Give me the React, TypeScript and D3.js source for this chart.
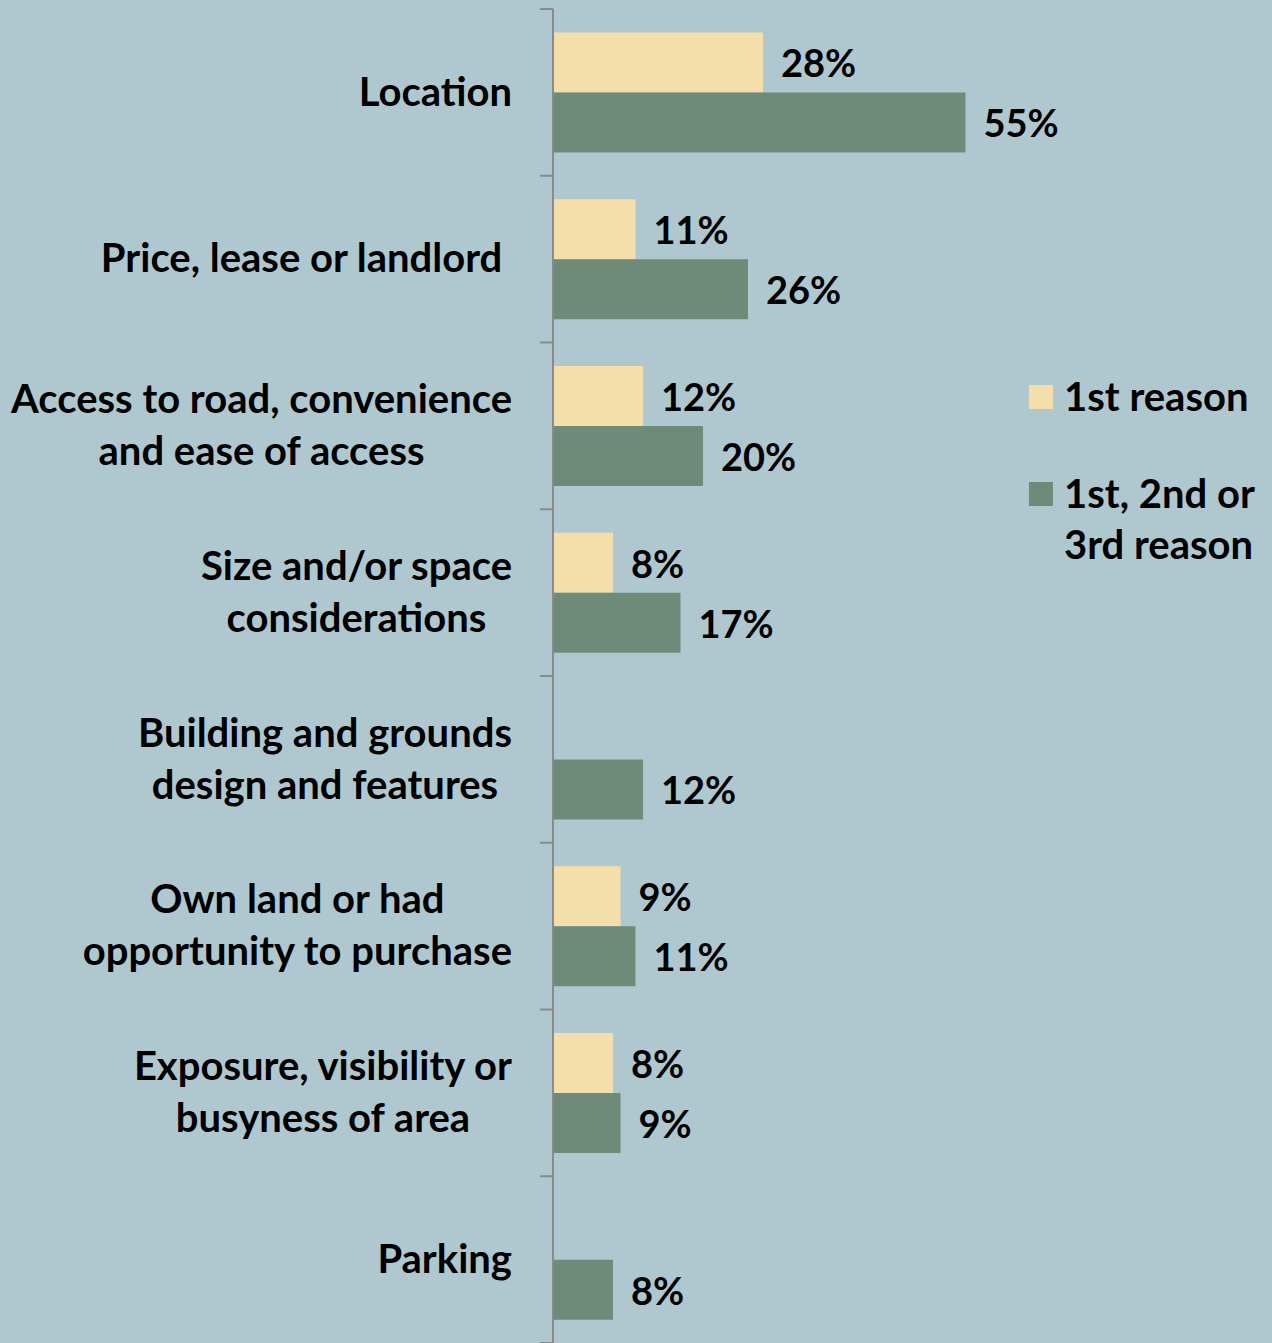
import { useEffect, useRef } from 'react'
import * as d3 from 'd3'

const categories = [
  ['Location'],
  ['Price, lease or landlord\u00a0'],
  ['Access to road, convenience', 'and ease of access'],
  ['Size and/or space', 'considerations'],
  ['Building and grounds', 'design and features'],
  ['Own land or had', 'opportunity to purchase'],
  ['Exposure, visibility or', 'busyness of area'],
  ['Parking'],
]
const firstReason: (number | null)[] = [28, 11, 12, 8, null, 9, 8, null]
const topThreeReason: number[] = [55, 26, 20, 17, 12, 11, 9, 8]
const seriesNames = ['1st reason', '1st, 2nd or 3rd reason']
const legendLines = [['1st reason'], ['1st, 2nd or', '3rd reason']]

const BG = '#afc8d0'
const YELLOW = '#f4dfab'
const GREEN = '#6e8b79'
const AXIS = '#8a8a8a'
const FONT = 'Lato, "Open Sans", sans-serif'
const FONT_SIZE = 40

export default function App() {
  const svgRef = useRef<SVGSVGElement>(null)

  useEffect(() => {
    if (!svgRef.current) return
    const W = 1272
    const H = 1343
    const svg = d3.select(svgRef.current)
    svg.selectAll('*').remove()
    svg.attr('width', W).attr('height', H)

    svg.append('rect').attr('width', W).attr('height', H).attr('fill', BG)

    const axisX = 553
    const top = 9
    const band = 166.75
    const keys = categories.map((_, i) => String(i))

    const y = d3.scaleBand()
      .domain(keys)
      .range([top, top + band * categories.length])
      .padding(0)

    const inner = d3.scaleBand()
      .domain(seriesNames)
      .range([23.5, 143.5])
      .padding(0)

    const x = d3.scaleLinear().domain([0, 100]).range([axisX, axisX + 750])

    const rows = categories.map((lines, i) => ({
      key: String(i),
      lines,
      values: [firstReason[i], topThreeReason[i]],
    }))

    // bars + value labels
    const g = svg.append('g')
    rows.forEach(r => {
      r.values.forEach((v, j) => {
        if (v == null) return
        const by = (y(r.key) as number) + (inner(seriesNames[j]) as number)
        g.append('rect')
          .attr('x', x(0))
          .attr('y', by)
          .attr('width', x(v) - x(0))
          .attr('height', inner.bandwidth())
          .attr('fill', j === 0 ? YELLOW : GREEN)
        g.append('text')
          .attr('x', x(v) + 18)
          .attr('y', by + inner.bandwidth() / 2 + 5)
          .attr('dominant-baseline', 'middle')
          .attr('font-family', FONT)
          .attr('font-weight', 'bold')
          .attr('font-size', 38)
          .attr('fill', '#000')
          .text(`${v}%`)
      })
    })

    // axis line + ticks
    svg.append('line')
      .attr('x1', axisX).attr('x2', axisX)
      .attr('y1', top).attr('y2', H)
      .attr('stroke', AXIS).attr('stroke-width', 2)
    d3.range(categories.length + 1).forEach(i => {
      const ty = top + band * i
      svg.append('line')
        .attr('x1', axisX - 13).attr('x2', axisX)
        .attr('y1', ty).attr('y2', ty)
        .attr('stroke', AXIS).attr('stroke-width', 2)
    })

    // category labels: lines centered on each other, block right aligned
    const lineGap = 52
    const labelRight = 512
    rows.forEach(r => {
      const cy = (y(r.key) as number) + y.bandwidth() / 2 + 3
      const lg = svg.append('g')
      const texts = r.lines.map((line, k) =>
        lg.append('text')
          .attr('y', cy + (k - (r.lines.length - 1) / 2) * lineGap)
          .attr('dominant-baseline', 'middle')
          .attr('text-anchor', 'middle')
          .attr('font-family', FONT)
          .attr('font-weight', 'bold')
          .attr('font-size', FONT_SIZE)
          .attr('fill', '#000')
          .style('white-space', 'pre')
          .text(line)
      )
      const maxW = d3.max(texts, t => (t.node() as SVGTextElement).getComputedTextLength()) ?? 0
      texts.forEach(t => t.attr('x', labelRight - maxW / 2))
    })

    // legend
    const legend = svg.append('g')
    const legendY = [397, 494]
    legendLines.forEach((lines, i) => {
      legend.append('rect')
        .attr('x', 1029)
        .attr('y', legendY[i] - 12)
        .attr('width', 24)
        .attr('height', 24)
        .attr('fill', i === 0 ? YELLOW : GREEN)
      lines.forEach((line, k) => {
        legend.append('text')
          .attr('x', 1064)
          .attr('y', legendY[i] + k * 51 + 4)
          .attr('dominant-baseline', 'middle')
          .attr('font-family', FONT)
          .attr('font-weight', 'bold')
          .attr('font-size', FONT_SIZE)
          .attr('fill', '#000')
          .text(line)
      })
    })
  }, [])

  return (
    <div style={{ position: 'absolute', left: 0, top: 0 }}>
      <svg ref={svgRef} style={{ display: 'block' }}></svg>
    </div>
  )
}
